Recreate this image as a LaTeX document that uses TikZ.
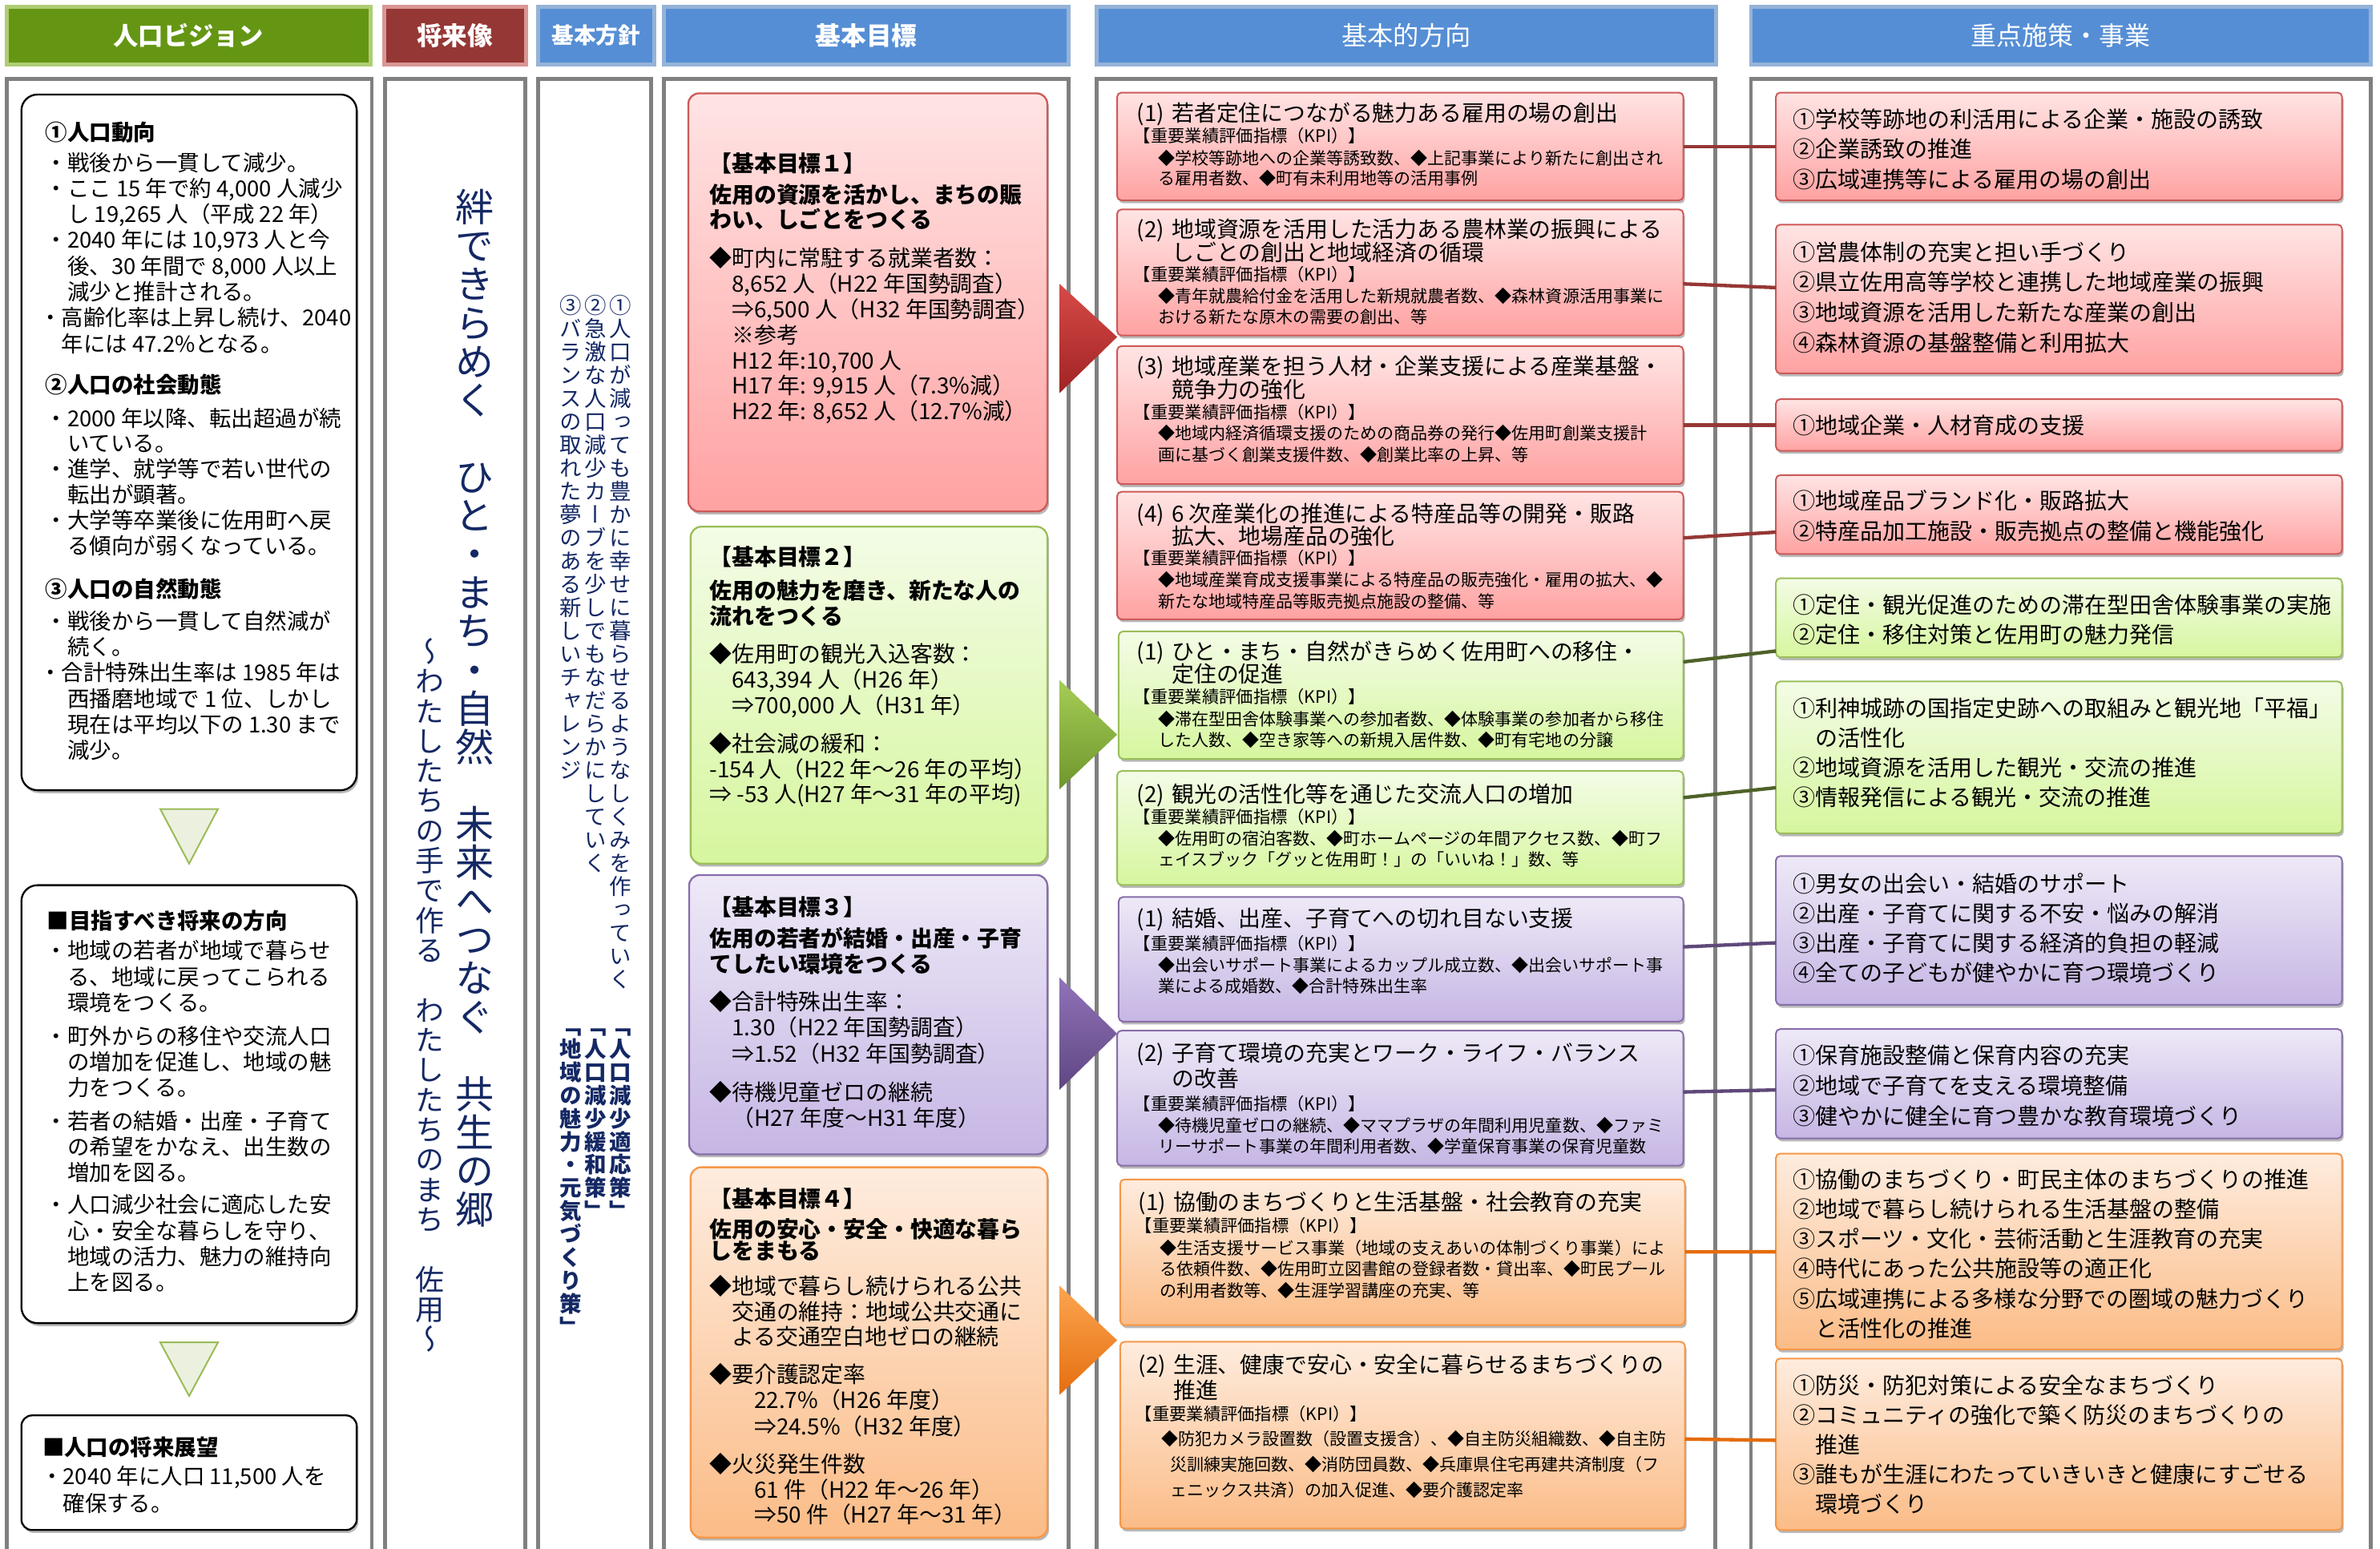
\documentclass[tikz,border=0pt]{standalone}
\usepackage{fontspec}
\setmainfont{Noto Sans CJK JP}
\newfontfamily\vjp[RawFeature=+vert]{Noto Sans CJK JP}
\usetikzlibrary{fit,shadows}
\newlength\uu \setlength\uu{0.02cm}
\makeatletter
\newcommand\ml[2]{\vtop{\baselineskip=#1\uu\lineskip=0pt\lineskiplimit=-1000pt\def\\{\cr}\halign{##\hfil\cr#2\crcr}}}
\newcommand\tate[2]{\vtop{\baselineskip=#1\uu\lineskip=0pt\lineskiplimit=-1000pt\@tfor\tt@c:=#2\do{\hbox to 1em{\hss\tt@c\hss}}}}
\makeatother
\newcommand\fsz[1]{\fontsize{#1}{#1}\selectfont}
\newcommand\ind{\kern1em}
\newcommand\nb[1]{\makebox[23\uu][l]{#1}}
\definecolor{gH}{RGB}{100,150,20}\definecolor{gHb}{RGB}{175,205,115}
\definecolor{rH}{RGB}{149,55,53}\definecolor{rHb}{RGB}{217,150,148}
\definecolor{bH}{RGB}{85,142,213}\definecolor{bHb}{RGB}{149,179,215}
\definecolor{frameC}{RGB}{128,128,128}
\definecolor{redT}{RGB}{255,228,228}\definecolor{redB}{RGB}{255,162,162}\definecolor{redL}{RGB}{205,90,88}
\definecolor{grnT}{RGB}{243,252,230}\definecolor{grnB}{RGB}{214,246,158}\definecolor{grnL}{RGB}{155,190,90}
\definecolor{purT}{RGB}{238,233,247}\definecolor{purB}{RGB}{198,182,228}\definecolor{purL}{RGB}{135,110,170}
\definecolor{orT}{RGB}{254,236,222}\definecolor{orB}{RGB}{251,188,135}\definecolor{orL}{RGB}{247,150,70}
\definecolor{lnR}{RGB}{149,55,53}\definecolor{lnG}{RGB}{79,98,40}\definecolor{lnP}{RGB}{95,73,122}\definecolor{lnO}{RGB}{228,108,10}
\definecolor{arR1}{RGB}{215,75,72}\definecolor{arR2}{RGB}{160,35,35}
\definecolor{arG1}{RGB}{165,205,85}\definecolor{arG2}{RGB}{110,150,45}
\definecolor{arP1}{RGB}{145,115,185}\definecolor{arP2}{RGB}{95,70,130}
\definecolor{arO1}{RGB}{252,165,80}\definecolor{arO2}{RGB}{228,110,15}
\definecolor{triF}{RGB}{235,241,222}\definecolor{triL}{RGB}{155,187,89}
\definecolor{navy}{RGB}{20,40,100}
\tikzset{
  tx/.style={anchor=base west, inner sep=0pt, outer sep=0pt},
  vt/.style={anchor=base, inner sep=0pt, outer sep=0pt, text=navy},
  frm/.style={draw=frameC, line width=1.45pt},
  hdr/.style={inner sep=0pt, outer sep=0pt, line width=1.4pt},
  htx/.style={inner sep=0pt, outer sep=0pt, text=white, anchor=center},
  sh/.style={drop shadow={shadow xshift=0.6pt, shadow yshift=-1.1pt, opacity=0.28, fill=black}},
  wbox/.style={sh, draw=black, fill=white, line width=0.7pt, inner sep=0pt, outer sep=0pt},
  gbox/.style={sh, inner sep=0pt, outer sep=0pt, line width=0.7pt, rounded corners=4pt},
  dbox/.style={sh, inner sep=0pt, outer sep=0pt, line width=0.6pt, rounded corners=1.6pt},
  redS/.style={draw=redL, top color=redT, bottom color=redB},
  grnS/.style={draw=grnL, top color=grnT, bottom color=grnB},
  purS/.style={draw=purL, top color=purT, bottom color=purB},
  orS/.style={draw=orL, top color=orT, bottom color=orB},
  link/.style={line width=1.3pt},
  tri/.style={draw=triL, fill=triF, line width=0.6pt},
}
\begin{document}
\begin{tikzpicture}[x=0.02cm,y=-0.02cm]
\useasboundingbox (0,0) rectangle (1568,1020);
\clip (0,0) rectangle (1568,1020);
\fill[white] (0,0) rectangle (1568,1020);
% column frames
\draw[frm] (4.3,52) rectangle (245,1040);
\draw[frm] (253.5,52) rectangle (346,1040);
\draw[frm] (354.5,52) rectangle (429,1040);
\draw[frm] (437.5,52) rectangle (704,1040);
\draw[frm] (722.5,52) rectangle (1130,1040);
\draw[frm] (1153.5,52) rectangle (1562,1040);
% headers
\node[hdr, fill=gH, draw=gHb, fit={(4.5,4.5) (244,42.5)}] (H1) {};
\node[hdr, fill=rH, draw=rHb, fit={(253,4.5) (346.5,42.5)}] (H2) {};
\node[hdr, fill=bH, draw=bHb, fit={(354.5,4.5) (431,42.5)}] (H3) {};
\node[hdr, fill=bH, draw=bHb, fit={(437.5,4.5) (704,42.5)}] (H4) {};
\node[hdr, fill=bH, draw=bHb, fit={(722.5,4.5) (1130.5,42.5)}] (H5) {};
\node[hdr, fill=bH, draw=bHb, fit={(1153.5,4.5) (1562,42.5)}] (H6) {};
\node[htx, font=\bfseries\fsz{9.4pt}] (H1t) at (H1.center) {人口ビジョン};
\node[htx, font=\bfseries\fsz{9.5pt}] (H2t) at (H2.center) {将来像};
\node[htx, font=\bfseries\fsz{8.3pt}] (H3t) at (H3.center) {基本方針};
\node[htx, font=\bfseries\fsz{9.5pt}] (H4t) at (H4.center) {基本目標};
\node[htx, font=\fsz{9.7pt}] (H5t) at (H5.center) {基本的方向};
\node[htx, font=\fsz{9.6pt}] (H6t) at (H6.center) {重点施策・事業};
% column 1 boxes
\node[wbox, rounded corners=6pt, fit={(14.1,62.3) (235,520.6)}] (LA) {};
\node[wbox, rounded corners=6pt, fit={(14.1,583.2) (235,871.7)}] (LB) {};
\node[wbox, rounded corners=4pt, fit={(14.1,932.5) (235,1008)}] (LC) {};
\draw[tri] (105.6,533) -- (143.6,533) -- (124.6,569) -- cycle;
\draw[tri] (105.6,884.4) -- (143.6,884.4) -- (124.6,919.7) -- cycle;
% column 4 boxes
\node[gbox, redS, fit={(453.5,61.5) (690,337)}] (G1) {};
\node[gbox, grnS, fit={(455,347) (690,569)}] (G2) {};
\node[gbox, purS, fit={(454,576.5) (690,760.5)}] (G3) {};
\node[gbox, orS, fit={(455,769) (690,1013)}] (G4) {};
% column 5 boxes
\node[dbox, redS, fit={(736,61) (1109,132)}] (D1) {};
\node[dbox, redS, fit={(736,138) (1109,221)}] (D2) {};
\node[dbox, redS, fit={(736,228) (1109,319)}] (D3) {};
\node[dbox, redS, fit={(736,324) (1109,408)}] (D4) {};
\node[dbox, grnS, fit={(737,416) (1109,500)}] (D5) {};
\node[dbox, grnS, fit={(736,508) (1109,583)}] (D6) {};
\node[dbox, purS, fit={(737,591) (1109,673)}] (D7) {};
\node[dbox, purS, fit={(736,679) (1109,768)}] (D8) {};
\node[dbox, orS, fit={(738,777) (1110,873)}] (D9) {};
\node[dbox, orS, fit={(738,884) (1110,1007)}] (D10) {};
% column 6 boxes
\node[dbox, redS, fit={(1170,61) (1543,132)}] (E1) {};
\node[dbox, redS, fit={(1170,148) (1543,246)}] (E2) {};
\node[dbox, redS, fit={(1170,263) (1543,297)}] (E3) {};
\node[dbox, redS, fit={(1170,313) (1543,365)}] (E4) {};
\node[dbox, grnS, fit={(1170,381) (1543,433)}] (E5) {};
\node[dbox, grnS, fit={(1170,449) (1543,549)}] (E6) {};
\node[dbox, purS, fit={(1170,564) (1543,662)}] (E7) {};
\node[dbox, purS, fit={(1170,678) (1543,750)}] (E8) {};
\node[dbox, orS, fit={(1170,760) (1543,889)}] (E9) {};
\node[dbox, orS, fit={(1170,895) (1543,1008)}] (E10) {};
% connectors
\draw[link, draw=lnR] (D1) -- (E1);
\draw[link, draw=lnR] (D2) -- (E2);
\draw[link, draw=lnR] (D3.east |- E3.west) -- (E3.west);
\draw[link, draw=lnR] (D4) -- (E4);
\draw[link, draw=lnG] (D5) -- (E5);
\draw[link, draw=lnG] (D6) -- (E6);
\draw[link, draw=lnP] (D7) -- (E7);
\draw[link, draw=lnP] (D8) -- (E8);
\draw[link, draw=lnO] (D9) -- (E9);
\draw[link, draw=lnO] (D10) -- (E10);
% chevrons
\shade[top color=arR1, bottom color=arR2] (698,187) -- (736,222) -- (698,259) -- cycle;
\shade[top color=arG1, bottom color=arG2] (698,448) -- (736,484) -- (698,520) -- cycle;
\shade[top color=arP1, bottom color=arP2] (698,644) -- (736,681) -- (698,718) -- cycle;
\shade[top color=arO1, bottom color=arO2] (698,847) -- (736,883) -- (698,919) -- cycle;
% column 1 text
\node[tx] (A0) at (30,92.4) {\fsz{8.25pt}\bfseries ①人口動向};
\node[tx] (A1) at (30,112.5) {\fsz{8.25pt}\ml{17.05}{・戦後から一貫して減少。\\・ここ 15 年で約 4,000 人減少\\\ind し 19,265 人（平成 22 年）\\・2040 年には 10,973 人と今\\\ind 後、30 年間で 8,000 人以上\\\ind 減少と推計される。\\\kern-4\uu・高齢化率は上昇し続け、2040\\\kern-4\uu\ind 年には 47.2\%となる。}};
\node[tx] (A2h) at (30,258.7) {\fsz{8.25pt}\bfseries ②人口の社会動態};
\node[tx] (A2) at (30,280.9) {\fsz{8.25pt}\ml{16.85}{・2000 年以降、転出超過が続\\\ind いている。\\・進学、就学等で若い世代の\\\ind 転出が顕著。\\・大学等卒業後に佐用町へ戻\\\ind る傾向が弱くなっている。}};
\node[tx] (A3h) at (30,393.4) {\fsz{8.25pt}\bfseries ③人口の自然動態};
\node[tx] (A3) at (30,414.5) {\fsz{8.25pt}\ml{17.06}{・戦後から一貫して自然減が\\\ind 続く。\\\kern-4\uu・合計特殊出生率は 1985 年は\\\ind 西播磨地域で 1 位、しかし\\\ind 現在は平均以下の 1.30 まで\\\ind 減少。}};
\node[tx] (B0) at (31,612) {\fsz{8.25pt}\bfseries ■目指すべき将来の方向};
\node[tx] (B1) at (30,631.9) {\fsz{8.25pt}\ml{17}{・地域の若者が地域で暮らせ\\\ind る、地域に戻ってこられる\\\ind 環境をつくる。}};
\node[tx] (B2) at (30,688) {\fsz{8.25pt}\ml{17}{・町外からの移住や交流人口\\\ind の増加を促進し、地域の魅\\\ind 力をつくる。}};
\node[tx] (B3) at (30,744.1) {\fsz{8.25pt}\ml{17}{・若者の結婚・出産・子育て\\\ind の希望をかなえ、出生数の\\\ind 増加を図る。}};
\node[tx] (B4) at (30,799.3) {\fsz{8.25pt}\ml{17}{・人口減少社会に適応した安\\\ind 心・安全な暮らしを守り、\\\ind 地域の活力、魅力の維持向\\\ind 上を図る。}};
\node[tx] (C0) at (28,958.9) {\fsz{8.25pt}\bfseries ■人口の将来展望};
\node[tx] (C1) at (27,978.2) {\fsz{8.25pt}\ml{17.6}{・2040 年に人口 11,500 人を\\\ind 確保する。}};
% column 2 vertical text
\node[vt] (V1) at (313,146.1) {\vjp\fsz{14.45pt}\tate{25.4}{絆できらめく　ひと・まち・自然　未来へつなぐ　共生の郷}};
\node[vt] (V2) at (283,436.3) {\vjp\fsz{10.8pt}\tate{19.7}{～わたしたちの手で作る　わたしたちのまち　佐用～}};
% column 3 vertical text
\node[vt] (P1) at (409,206.8) {\vjp\fsz{8.25pt}\tate{15.3}{①人口が減っても豊かに幸せに暮らせるようなしくみを作っていく}};
\node[vt] (P2) at (392.5,206.8) {\vjp\fsz{8.25pt}\tate{15.3}{②急激な人口減少カーブを少しでもなだらかにしていく}};
\node[vt] (P3) at (376,206.8) {\vjp\fsz{8.25pt}\tate{15.3}{③バランスの取れた夢のある新しいチャレンジ}};
\node[vt] (Q1) at (409,681.1) {\vjp\bfseries\fsz{8.25pt}\tate{15.3}{「人口減少適応策」}};
\node[vt] (Q2) at (392.5,681.1) {\vjp\bfseries\fsz{8.25pt}\tate{15.3}{「人口減少緩和策」}};
\node[vt] (Q3) at (376,681.1) {\vjp\bfseries\fsz{8.25pt}\tate{15.3}{「地域の魅力・元気づくり策」}};
% column 4 text
\node[tx] (G1h) at (467.5,113.3) {\fsz{8.37pt}\bfseries 【基本目標１】};
\node[tx] (G1t) at (467.5,133.6) {\fsz{8.37pt}\bfseries\ml{16.8}{佐用の資源を活かし、まちの賑\\わい、しごとをつくる}};
\node[tx] (G1b) at (467.5,175.6) {\fsz{8.37pt}\ml{16.83}{◆町内に常駐する就業者数：\\\ind 8,652 人（H22 年国勢調査）\\\ind ⇒6,500 人（H32 年国勢調査）\\\ind ※参考\\\ind H12 年:10,700 人\\\ind H17 年: 9,915 人（7.3\%減）\\\ind H22 年: 8,652 人（12.7\%減）}};
\node[tx] (G2h) at (467.5,372.6) {\fsz{8.37pt}\bfseries 【基本目標２】};
\node[tx] (G2t) at (467.5,394.5) {\fsz{8.37pt}\bfseries\ml{16.8}{佐用の魅力を磨き、新たな人の\\流れをつくる}};
\node[tx] (G2b) at (467.5,436.6) {\fsz{8.37pt}\ml{16.8}{◆佐用町の観光入込客数：\\\ind 643,394 人（H26 年）\\\ind ⇒700,000 人（H31 年）}};
\node[tx] (G2c) at (467.5,495.5) {\fsz{8.37pt}\ml{16.65}{◆社会減の緩和：\\-154 人（H22 年～26 年の平均）\\⇒ -53 人(H27 年～31 年の平均)}};
\node[tx] (G3h) at (467.5,603.4) {\fsz{8.37pt}\bfseries 【基本目標３】};
\node[tx] (G3t) at (467.5,623.8) {\fsz{8.37pt}\bfseries\ml{17}{佐用の若者が結婚・出産・子育\\てしたい環境をつくる}};
\node[tx] (G3b) at (467.5,665.6) {\fsz{8.37pt}\ml{17}{◆合計特殊出生率：\\\ind 1.30（H22 年国勢調査）\\\ind ⇒1.52（H32 年国勢調査）}};
\node[tx] (G3c) at (467.5,725.2) {\fsz{8.37pt}\ml{17}{◆待機児童ゼロの継続\\\ind （H27 年度～H31 年度）}};
\node[tx] (G4h) at (467.5,795.4) {\fsz{8.37pt}\bfseries 【基本目標４】};
\node[tx] (G4t) at (467.5,815.3) {\fsz{8.37pt}\bfseries\ml{14.5}{佐用の安心・安全・快適な暮ら\\しをまもる}};
\node[tx] (G4b) at (467.5,852.9) {\fsz{8.37pt}\ml{16.7}{◆地域で暮らし続けられる公共\\\ind 交通の維持：地域公共交通に\\\ind よる交通空白地ゼロの継続}};
\node[tx] (G4c) at (467.5,911.1) {\fsz{8.37pt}\ml{17}{◆要介護認定率\\\ind\ind 22.7\%（H26 年度）\\\ind\ind ⇒24.5\%（H32 年度）}};
\node[tx] (G4d) at (467.5,970.1) {\fsz{8.37pt}\ml{16.7}{◆火災発生件数\\\ind\ind 61 件（H22 年～26 年）\\\ind\ind ⇒50 件（H27 年～31 年）}};
% column 5 text
\node[tx] (D1a) at (749,80) {\fsz{8.37pt}\nb{(1)}若者定住につながる魅力ある雇用の場の創出};
\node[tx] (D1k) at (747,93.7) {\fsz{6.4pt}【重要業績評価指標（KPI）】};
\node[tx] (D1b) at (763,108.7) {\fsz{6.32pt}\ml{13}{◆学校等跡地への企業等誘致数、◆上記事業により新たに創出され\\る雇用者数、◆町有未利用地等の活用事例}};
\node[tx] (D2a) at (749,156.5) {\fsz{8.37pt}\ml{15.1}{\nb{(2)}地域資源を活用した活力ある農林業の振興による\\\kern23\uu しごとの創出と地域経済の循環}};
\node[tx] (D2k) at (747,185.3) {\fsz{6.4pt}【重要業績評価指標（KPI）】};
\node[tx] (D2b) at (763,199.2) {\fsz{6.32pt}\ml{14}{◆青年就農給付金を活用した新規就農者数、◆森林資源活用事業に\\おける新たな原木の需要の創出、等}};
\node[tx] (D3a) at (749,247) {\fsz{8.37pt}\ml{15.1}{\nb{(3)}地域産業を担う人材・企業支援による産業基盤・\\\kern23\uu 競争力の強化}};
\node[tx] (D3k) at (747,275.9) {\fsz{6.4pt}【重要業績評価指標（KPI）】};
\node[tx] (D3b) at (763,289.8) {\fsz{6.32pt}\ml{14}{◆地域内経済循環支援のための商品券の発行◆佐用町創業支援計\\画に基づく創業支援件数、◆創業比率の上昇、等}};
\node[tx] (D4a) at (749,343.7) {\fsz{8.37pt}\ml{15.3}{\nb{(4)}6 次産業化の推進による特産品等の開発・販路\\\kern23\uu 拡大、地場産品の強化}};
\node[tx] (D4k) at (747,371.9) {\fsz{6.4pt}【重要業績評価指標（KPI）】};
\node[tx] (D4b) at (763,386.1) {\fsz{6.32pt}\ml{14.2}{◆地域産業育成支援事業による特産品の販売強化・雇用の拡大、◆\\新たな地域特産品等販売拠点施設の整備、等}};
\node[tx] (D5a) at (749,434.5) {\fsz{8.37pt}\ml{15.3}{\nb{(1)}ひと・まち・自然がきらめく佐用町への移住・\\\kern23\uu 定住の促進}};
\node[tx] (D5k) at (747,463.4) {\fsz{6.4pt}【重要業績評価指標（KPI）】};
\node[tx] (D5b) at (763,478) {\fsz{6.32pt}\ml{13.8}{◆滞在型田舎体験事業への参加者数、◆体験事業の参加者から移住\\した人数、◆空き家等への新規入居件数、◆町有宅地の分譲}};
\node[tx] (D6a) at (749,528.7) {\fsz{8.37pt}\nb{(2)}観光の活性化等を通じた交流人口の増加};
\node[tx] (D6k) at (747,542.7) {\fsz{6.4pt}【重要業績評価指標（KPI）】};
\node[tx] (D6b) at (763,556.8) {\fsz{6.32pt}\ml{13.8}{◆佐用町の宿泊客数、◆町ホームページの年間アクセス数、◆町フ\\ェイスブック「グッと佐用町！」の「いいね！」数、等}};
\node[tx] (D7a) at (749,610.8) {\fsz{8.37pt}\nb{(1)}結婚、出産、子育てへの切れ目ない支援};
\node[tx] (D7k) at (747,625.9) {\fsz{6.4pt}【重要業績評価指標（KPI）】};
\node[tx] (D7b) at (763,640) {\fsz{6.32pt}\ml{13.8}{◆出会いサポート事業によるカップル成立数、◆出会いサポート事\\業による成婚数、◆合計特殊出生率}};
\node[tx] (D8a) at (749,699.5) {\fsz{8.37pt}\ml{16.8}{\nb{(2)}子育て環境の充実とワーク・ライフ・バランス\\\kern23\uu の改善}};
\node[tx] (D8k) at (747,731.6) {\fsz{6.4pt}【重要業績評価指標（KPI）】};
\node[tx] (D8b) at (763,745.6) {\fsz{6.32pt}\ml{13.8}{◆待機児童ゼロの継続、◆ママプラザの年間利用児童数、◆ファミ\\リーサポート事業の年間利用者数、◆学童保育事業の保育児童数}};
\node[tx] (D9a) at (750,797.6) {\fsz{8.37pt}\nb{(1)}協働のまちづくりと生活基盤・社会教育の充実};
\node[tx] (D9k) at (748,811.9) {\fsz{6.4pt}【重要業績評価指標（KPI）】};
\node[tx] (D9b) at (764,826.3) {\fsz{6.32pt}\ml{14}{◆生活支援サービス事業（地域の支えあいの体制づくり事業）によ\\る依頼件数、◆佐用町立図書館の登録者数・貸出率、◆町民プール\\の利用者数等、◆生涯学習講座の充実、等}};
\node[tx] (D10a) at (750,904.6) {\fsz{8.37pt}\ml{16.7}{\nb{(2)}生涯、健康で安心・安全に暮らせるまちづくりの\\\kern23\uu 推進}};
\node[tx] (D10k) at (748,936) {\fsz{6.4pt}【重要業績評価指標（KPI）】};
\node[tx] (D10b) at (765,952.2) {\fsz{6.32pt}\ml{16.75}{◆防犯カメラ設置数（設置支援含）、◆自主防災組織数、◆自主防\\\kern6\uu 災訓練実施回数、◆消防団員数、◆兵庫県住宅再建共済制度（フ\\\kern6\uu ェニックス共済）の加入促進、◆要介護認定率}};
% column 6 text
\node[tx] (E1t) at (1181,84.3) {\fsz{8.42pt}\ml{19.65}{①学校等跡地の利活用による企業・施設の誘致\\②企業誘致の推進\\③広域連携等による雇用の場の創出}};
\node[tx] (E2t) at (1181,171.6) {\fsz{8.42pt}\ml{19.97}{①営農体制の充実と担い手づくり\\②県立佐用高等学校と連携した地域産業の振興\\③地域資源を活用した新たな産業の創出\\④森林資源の基盤整備と利用拡大}};
\node[tx] (E3t) at (1181,285.8) {\fsz{8.42pt}①地域企業・人材育成の支援};
\node[tx] (E4t) at (1181,335.3) {\fsz{8.42pt}\ml{20.5}{①地域産品ブランド化・販路拡大\\②特産品加工施設・販売拠点の整備と機能強化}};
\node[tx] (E5t) at (1181,403.9) {\fsz{8.42pt}\ml{19.7}{①定住・観光促進のための滞在型田舎体験事業の実施\\②定住・移住対策と佐用町の魅力発信}};
\node[tx] (E6t) at (1181,472.2) {\fsz{8.42pt}\ml{19.57}{①利神城跡の国指定史跡への取組みと観光地「平福」\\\ind の活性化\\②地域資源を活用した観光・交流の推進\\③情報発信による観光・交流の推進}};
\node[tx] (E7t) at (1181,587.8) {\fsz{8.42pt}\ml{19.53}{①男女の出会い・結婚のサポート\\②出産・子育てに関する不安・悩みの解消\\③出産・子育てに関する経済的負担の軽減\\④全ての子どもが健やかに育つ環境づくり}};
\node[tx] (E8t) at (1181,701.1) {\fsz{8.42pt}\ml{19.85}{①保育施設整備と保育内容の充実\\②地域で子育てを支える環境整備\\③健やかに健全に育つ豊かな教育環境づくり}};
\node[tx] (E9t) at (1181,782.7) {\fsz{8.42pt}\ml{19.6}{①協働のまちづくり・町民主体のまちづくりの推進\\②地域で暮らし続けられる生活基盤の整備\\③スポーツ・文化・芸術活動と生涯教育の充実\\④時代にあった公共施設等の適正化\\⑤広域連携による多様な分野での圏域の魅力づくり\\\ind と活性化の推進}};
\node[tx] (E10t) at (1181,918.6) {\fsz{8.42pt}\ml{19.45}{①防災・防犯対策による安全なまちづくり\\②コミュニティの強化で築く防災のまちづくりの\\\ind 推進\\③誰もが生涯にわたっていきいきと健康にすごせる\\\ind 環境づくり}};
\end{tikzpicture}
\end{document}
